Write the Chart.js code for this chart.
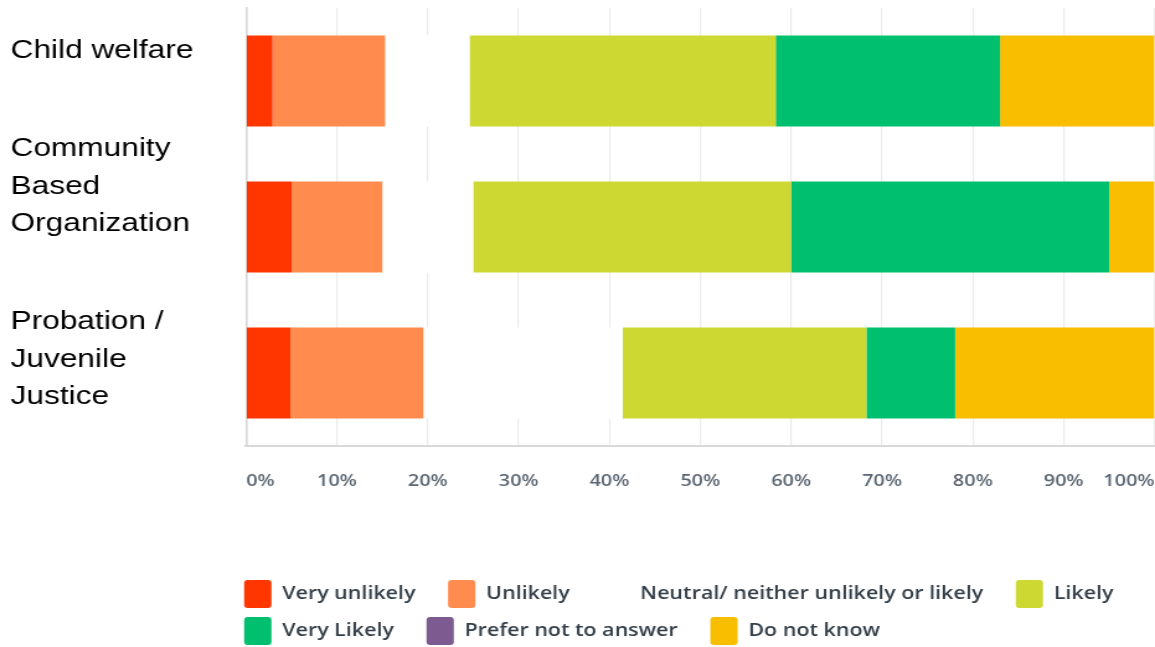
<!DOCTYPE html>
<html>
<head>
<meta charset="utf-8">
<title>Likelihood by agency type</title>
<script src="https://cdn.jsdelivr.net/npm/chart.js@4.4.1/dist/chart.umd.min.js"></script>
<style>
  html, body { margin: 0; padding: 0; background: #fff; overflow: hidden; }
  /* the chart is laid out on a narrower canvas and widened as a whole */
  #stage { width: 931px; height: 647px; transform-origin: 0 0; transform: scaleX(1.2406); }
</style>
</head>
<body>
<div id="stage"><canvas id="chart" width="931" height="647" style="width:931px;height:647px"></canvas></div>
<script>
// Agency types (multi-line row labels)
const categories = [
  ['Child welfare'],
  ['Community', 'Based', 'Organization'],
  ['Probation /', 'Juvenile', 'Justice']
];

// Answer options, in stacking / legend order
const responses = [
  'Very unlikely',
  'Unlikely',
  'Neutral/ neither unlikely or likely',
  'Likely',
  'Very Likely',
  'Prefer not to answer',
  'Do not know'
];

// Share of respondents (%) per agency type
const veryUnlikely = [2.9, 5, 4.88];
const unlikely     = [12.4, 10, 14.63];
const neutral      = [9.3, 10, 21.95];
const likely       = [33.7, 35, 26.83];
const veryLikely   = [24.7, 35, 9.76];
const preferNot    = [0, 0, 0];
const doNotKnow    = [17.0, 5, 21.95];

// Percentage axis ticks
const tickValues = [0, 10, 20, 30, 40, 50, 60, 70, 80, 90, 100];

const seriesValues = [veryUnlikely, unlikely, neutral, likely, veryLikely, preferNot, doNotKnow];
const palette = ['#ff3600', '#ff8b4f', '#ffffff', '#cdd932', '#00bf6f', '#7d5a8f', '#f9be00'];

// vertical nudge of each row label's first baseline from the row centre
const labelNudge = [-23, -71, -44];
const labelLineGap = 37.5;

const rowLabels = {
  id: 'rowLabels',
  afterDraw(chart) {
    const { ctx } = chart;
    const y = chart.scales.y;
    ctx.save();
    ctx.font = '25.5px "Liberation Sans", Arial, Helvetica, sans-serif';
    ctx.fillStyle = '#000000';
    ctx.textAlign = 'left';
    ctx.textBaseline = 'alphabetic';
    categories.forEach((lines, i) => {
      const base = y.getPixelForValue(i) + labelNudge[i];
      lines.forEach((t, k) => ctx.fillText(t, 8.5, base + k * labelLineGap));
    });
    ctx.restore();
  }
};

new Chart(document.getElementById('chart'), {
  type: 'bar',
  data: {
    labels: categories,
    datasets: responses.map((name, i) => ({
      label: name,
      data: seriesValues[i],
      backgroundColor: palette[i],
      borderWidth: 0
    }))
  },
  options: {
    indexAxis: 'y',
    responsive: false,
    animation: false,
    devicePixelRatio: 1,
    layout: { padding: { top: 8, left: 187.8, right: 0.4, bottom: -8 } },
    datasets: { bar: { barPercentage: 0.623, categoryPercentage: 1 } },
    scales: {
      x: {
        stacked: true,
        min: 0,
        max: 100,
        position: 'bottom',
        afterFit(s) { s.height = 125; s.paddingLeft = 0; s.paddingRight = 0; },
        afterBuildTicks(s) { s.ticks = tickValues.map(v => ({ value: v })); },
        grid: { color: '#ebebeb', lineWidth: 1.2, drawTicks: false },
        border: { display: true, color: '#d9d9d9', width: 2 },
        ticks: {
          align: 'inner',
          padding: 26,
          color: '#5b6672',
          font: { family: '"Open Sans", sans-serif', size: 16, weight: '600' },
          maxRotation: 0,
          autoSkip: false,
          callback: v => v + '%'
        }
      },
      y: {
        stacked: true,
        afterFit(s) { s.width = 10.6; },
        grid: { display: false, drawTicks: false },
        border: { display: true, color: '#d6d6d6', width: 1.6 },
        ticks: { display: false }
      }
    },
    plugins: {
      tooltip: { enabled: false },
      legend: {
        position: 'bottom',
        align: 'start',
        labels: {
          boxWidth: 22,
          boxHeight: 28,
          useBorderRadius: true,
          borderRadius: 3,
          padding: 9,
          color: '#333e48',
          font: { family: '"Open Sans", sans-serif', size: 17.3, weight: '600' },
          generateLabels(chart) {
            const items = Chart.defaults.plugins.legend.labels.generateLabels(chart);
            items.forEach(it => { it.text = it.text + '\u2002\u2002'; it.lineWidth = 0; });
            return items;
          }
        }
      }
    }
  },
  plugins: [rowLabels]
});
</script>
</body>
</html>
